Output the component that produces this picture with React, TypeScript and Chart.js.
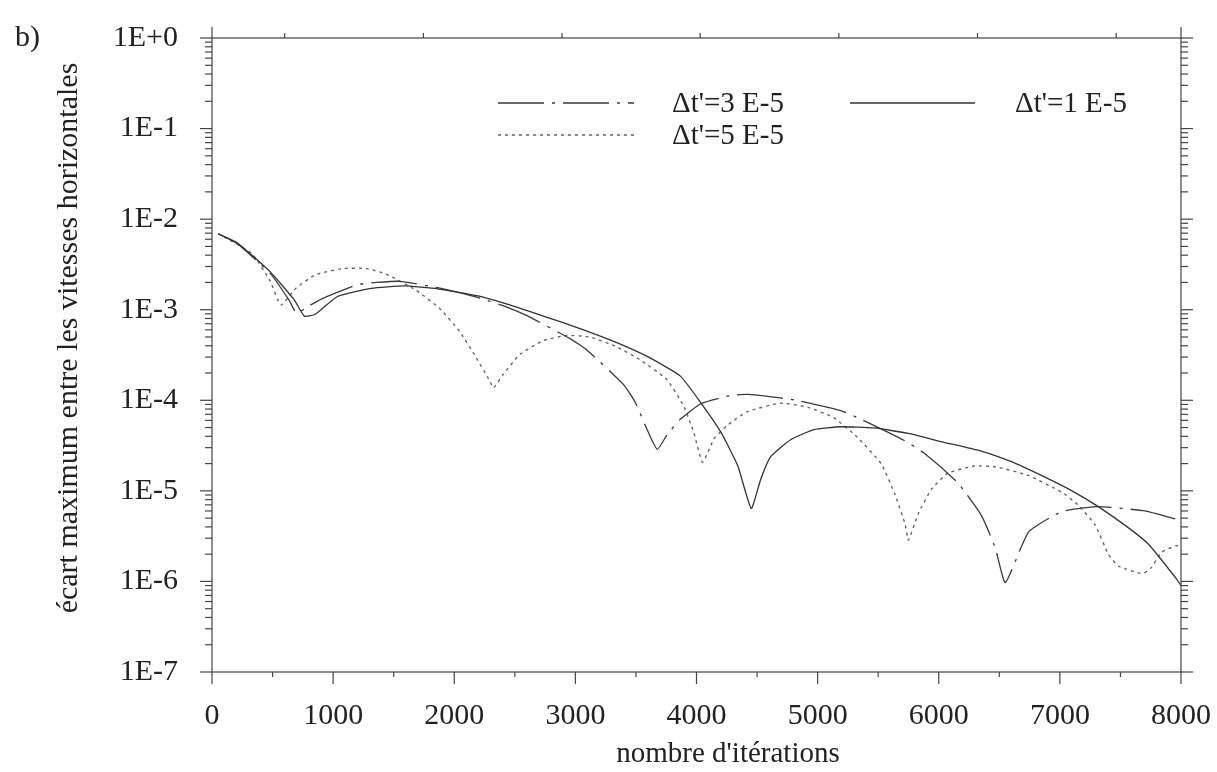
import React, { useEffect, useRef } from 'react';
import { Chart, registerables } from 'chart.js';

Chart.register(...registerables);

// ---- tick labels / axis data ----
const xTickValues = [0, 1000, 2000, 3000, 4000, 5000, 6000, 7000, 8000];
const xTickLabels = ['0', '1000', '2000', '3000', '4000', '5000', '6000', '7000', '8000'];
const xMinorTickValues = [500, 1500, 2500, 3500, 4500, 5500, 6500, 7500];
const topTickValues = [0, 600, 1745, 2890, 4030, 5175, 6320, 7465, 8000];
const yTickValues = [1e-7, 1e-6, 1e-5, 1e-4, 1e-3, 1e-2, 1e-1, 1];
const yTickLabels = ['1E-7', '1E-6', '1E-5', '1E-4', '1E-3', '1E-2', '1E-1', '1E+0'];

// ---- series: Δt'=1 E-5 (solid) ----
const solidX = [50, 207, 483, 678, 762, 845, 900, 1036, 1314, 1587, 1863, 2207, 2482, 2760, 3038, 3312, 3589, 3865, 4033, 4199, 4340, 4452, 4533, 4614, 4777, 4970, 5190, 5466, 5750, 6018, 6350, 6600, 6847, 7100, 7317, 7567, 7734, 7955, 8000];
const solidY = [6.9e-3, 5.5e-3, 2.6e-3, 1.29e-3, 8.5e-4, 8.8e-4, 1.0e-3, 1.4e-3, 1.72e-3, 1.83e-3, 1.7e-3, 1.41e-3, 1.1e-3, 8.3e-4, 6.2e-4, 4.5e-4, 3.07e-4, 1.86e-4, 9.5e-5, 4.5e-5, 1.9e-5, 6.4e-6, 1.38e-5, 2.4e-5, 3.67e-5, 4.75e-5, 5.1e-5, 4.95e-5, 4.3e-5, 3.5e-5, 2.75e-5, 2.1e-5, 1.48e-5, 1.0e-5, 6.7e-6, 3.9e-6, 2.56e-6, 1.1e-6, 9.0e-7];

// ---- series: Δt'=3 E-5 (dash-dot) ----
const dashDotX = [50, 207, 483, 640, 697, 800, 906, 1113, 1216, 1359, 1551, 1863, 2208, 2434, 2600, 2955, 3094, 3398, 3496, 3592, 3677, 3759, 3868, 4033, 4282, 4430, 4806, 5190, 5355, 5715, 5881, 6159, 6354, 6466, 6550, 6741, 7015, 7317, 7702, 7951, 8000];
const dashDotY = [6.9e-3, 5.4e-3, 2.5e-3, 1.25e-3, 9.2e-4, 1.1e-3, 1.32e-3, 1.71e-3, 1.91e-3, 2.0e-3, 2.06e-3, 1.75e-3, 1.35e-3, 1.07e-3, 8.6e-4, 4.8e-4, 3.6e-4, 1.49e-4, 9.4e-5, 4.75e-5, 2.87e-5, 4.2e-5, 6.2e-5, 9.1e-5, 1.13e-4, 1.16e-4, 1.01e-4, 7.7e-5, 6.2e-5, 3.6e-5, 2.6e-5, 1.22e-5, 5.3e-6, 2.36e-6, 9.7e-7, 3.5e-6, 5.9e-6, 6.7e-6, 6.0e-6, 4.9e-6, 4.7e-6];

// ---- series: Δt'=5 E-5 (dotted) ----
const dottedX = [50, 327, 478, 569, 693, 856, 1076, 1270, 1436, 1684, 1878, 2044, 2183, 2294, 2323, 2405, 2541, 2735, 2928, 3121, 3341, 3533, 3755, 3893, 3978, 4050, 4145, 4255, 4420, 4694, 4915, 5135, 5328, 5524, 5636, 5721, 5750, 5831, 5938, 6075, 6296, 6474, 6738, 7013, 7150, 7291, 7403, 7487, 7680, 7755, 7840, 7955, 8000];
const dottedY = [6.9e-3, 4.2e-3, 2.1e-3, 1.13e-3, 1.73e-3, 2.44e-3, 2.84e-3, 2.86e-3, 2.48e-3, 1.64e-3, 1.04e-3, 5.75e-4, 2.93e-4, 1.63e-4, 1.37e-4, 1.94e-4, 3.2e-4, 4.56e-4, 5.2e-4, 5.0e-4, 3.9e-4, 2.8e-4, 1.7e-4, 8.7e-5, 4.4e-5, 2.07e-5, 3.76e-5, 5.3e-5, 7.5e-5, 9.3e-5, 8.4e-5, 6.4e-5, 3.9e-5, 2.0e-5, 9.3e-6, 4.35e-6, 2.86e-6, 5.6e-6, 1.03e-5, 1.57e-5, 1.88e-5, 1.84e-5, 1.48e-5, 9.7e-6, 7.0e-6, 4.2e-6, 1.97e-6, 1.47e-6, 1.22e-6, 1.42e-6, 2.1e-6, 2.47e-6, 2.5e-6];

const seriesLabels = ["\u0394t'=1 E-5", "\u0394t'=3 E-5", "\u0394t'=5 E-5"];
const xTitle = "nombre d'it\u00e9rations";
const yTitle = '\u00e9cart maximum entre les vitesses horizontales';
const panelLabel = 'b)';

const SERIF = "'Liberation Serif', 'Times New Roman', serif";
const SOLID_DASH: number[] = [];
const DASHDOT = [46, 8, 3, 8];
const DOTTED = [3, 4];

const zip = (xs: number[], ys: number[]) => xs.map((x, i) => ({ x, y: ys[i] }));

const decorPlugin = {
  id: 'decor',
  afterDraw(chart: any) {
    const { ctx, chartArea, scales } = chart;
    const { left, right, top, bottom } = chartArea;
    const xs = scales.x;
    const ys = scales.y;
    ctx.save();
    ctx.strokeStyle = '#444';
    ctx.lineWidth = 1.2;
    ctx.setLineDash([]);
    ctx.strokeRect(left, top, right - left, bottom - top);
    const seg = (x1: number, y1: number, x2: number, y2: number) => {
      ctx.beginPath();
      ctx.moveTo(x1, y1);
      ctx.lineTo(x2, y2);
      ctx.stroke();
    };
    xTickValues.forEach((v) => {
      const p = xs.getPixelForValue(v);
      seg(p, bottom, p, bottom + 12);
    });
    xMinorTickValues.forEach((v) => {
      const p = xs.getPixelForValue(v);
      seg(p, bottom, p, bottom + 5);
    });
    topTickValues.forEach((v, i) => {
      const p = xs.getPixelForValue(v);
      const len = i === 0 || i === topTickValues.length - 1 ? 11 : 5;
      seg(p, top, p, top - len);
    });
    yTickValues.forEach((v) => {
      const p = ys.getPixelForValue(v);
      seg(left - 12, p, left, p);
      seg(right, p, right + 12, p);
    });
    for (let k = 0; k < yTickValues.length - 1; k++) {
      for (let m = 2; m <= 9; m++) {
        const p = ys.getPixelForValue(m * yTickValues[k]);
        seg(left - 7, p, left, p);
        seg(right, p, right + 7, p);
      }
    }

    ctx.fillStyle = '#222';
    ctx.textBaseline = 'alphabetic';
    ctx.font = `30px ${SERIF}`;
    ctx.textAlign = 'left';
    ctx.fillText(panelLabel, 15, 46);

    ctx.font = `29px ${SERIF}`;
    ctx.textAlign = 'center';
    ctx.fillText(xTitle, 728, 762);

    ctx.save();
    ctx.translate(77, 338);
    ctx.rotate(-Math.PI / 2);
    ctx.font = `30px ${SERIF}`;
    ctx.textAlign = 'center';
    ctx.fillText(yTitle, 0, 0);
    ctx.restore();

    const legendRows = [
      { x1: 498, x2: 634, y: 103, dash: DASHDOT, color: '#3a3a3a', tx: 672, label: seriesLabels[1] },
      { x1: 850, x2: 975, y: 103, dash: SOLID_DASH, color: '#333', tx: 1015, label: seriesLabels[0] },
      { x1: 498, x2: 634, y: 135, dash: DOTTED, color: '#666', tx: 672, label: seriesLabels[2] },
    ];
    legendRows.forEach((r) => {
      ctx.strokeStyle = r.color;
      ctx.lineWidth = 1.3;
      ctx.setLineDash(r.dash);
      seg(r.x1, r.y, r.x2, r.y);
      ctx.setLineDash([]);
      ctx.font = `29px ${SERIF}`;
      ctx.textAlign = 'left';
      ctx.textBaseline = 'middle';
      ctx.fillStyle = '#222';
      ctx.fillText(r.label, r.tx, r.y + 1);
    });
    ctx.restore();
  },
};

export default function App() {
  const canvasRef = useRef<HTMLCanvasElement | null>(null);

  useEffect(() => {
    const canvas = canvasRef.current;
    if (!canvas) return;
    const chart = new Chart(canvas, {
      type: 'line',
      data: {
        datasets: [
          {
            label: seriesLabels[0],
            data: zip(solidX, solidY),
            borderColor: '#333',
            borderWidth: 1.3,
            borderDash: SOLID_DASH,
            pointRadius: 0,
            tension: 0.15,
            fill: false,
          },
          {
            label: seriesLabels[1],
            data: zip(dashDotX, dashDotY),
            borderColor: '#3a3a3a',
            borderWidth: 1.3,
            borderDash: DASHDOT,
            pointRadius: 0,
            tension: 0.15,
            fill: false,
          },
          {
            label: seriesLabels[2],
            data: zip(dottedX, dottedY),
            borderColor: '#666',
            borderWidth: 1.4,
            borderDash: DOTTED,
            pointRadius: 0,
            tension: 0.15,
            fill: false,
          },
        ],
      },
      options: {
        animation: false,
        responsive: true,
        maintainAspectRatio: false,
        layout: { padding: { top: 38, right: 36, left: 0, bottom: 0 } },
        plugins: { legend: { display: false }, tooltip: { enabled: false }, title: { display: false } },
        scales: {
          x: {
            type: 'linear',
            min: 0,
            max: 8000,
            grid: { display: false, drawTicks: false },
            border: { display: false },
            afterBuildTicks: (scale: any) => {
              scale.ticks = xTickValues.map((v) => ({ value: v }));
            },
            afterFit: (scale: any) => {
              scale.height = 100;
              scale.paddingLeft = 0;
              scale.paddingRight = 0;
            },
            ticks: {
              autoSkip: false,
              maxRotation: 0,
              padding: 26,
              color: '#222',
              font: { family: SERIF, size: 30 },
              callback: (v: any) => {
                const i = xTickValues.indexOf(Number(v));
                return i >= 0 ? xTickLabels[i] : '';
              },
            },
          },
          y: {
            type: 'logarithmic',
            min: 1e-7,
            max: 1,
            grid: { display: false, drawTicks: false },
            border: { display: false },
            afterBuildTicks: (scale: any) => {
              scale.ticks = yTickValues.map((v) => ({ value: v }));
            },
            afterFit: (scale: any) => {
              scale.width = 212;
              scale.paddingTop = 0;
              scale.paddingBottom = 0;
            },
            ticks: {
              autoSkip: false,
              padding: 34,
              color: '#222',
              font: { family: SERIF, size: 30 },
              callback: (v: any) => {
                const i = yTickValues.findIndex((t) => Math.abs(Math.log10(t) - Math.log10(Number(v))) < 1e-6);
                return i >= 0 ? yTickLabels[i] : '';
              },
            },
          },
        },
      },
      plugins: [decorPlugin],
    } as any);
    return () => chart.destroy();
  }, []);

  return (
    <div style={{ position: 'fixed', left: 0, top: 0, width: 1217, height: 772, background: '#fff' }}>
      <canvas ref={canvasRef} />
    </div>
  );
}
